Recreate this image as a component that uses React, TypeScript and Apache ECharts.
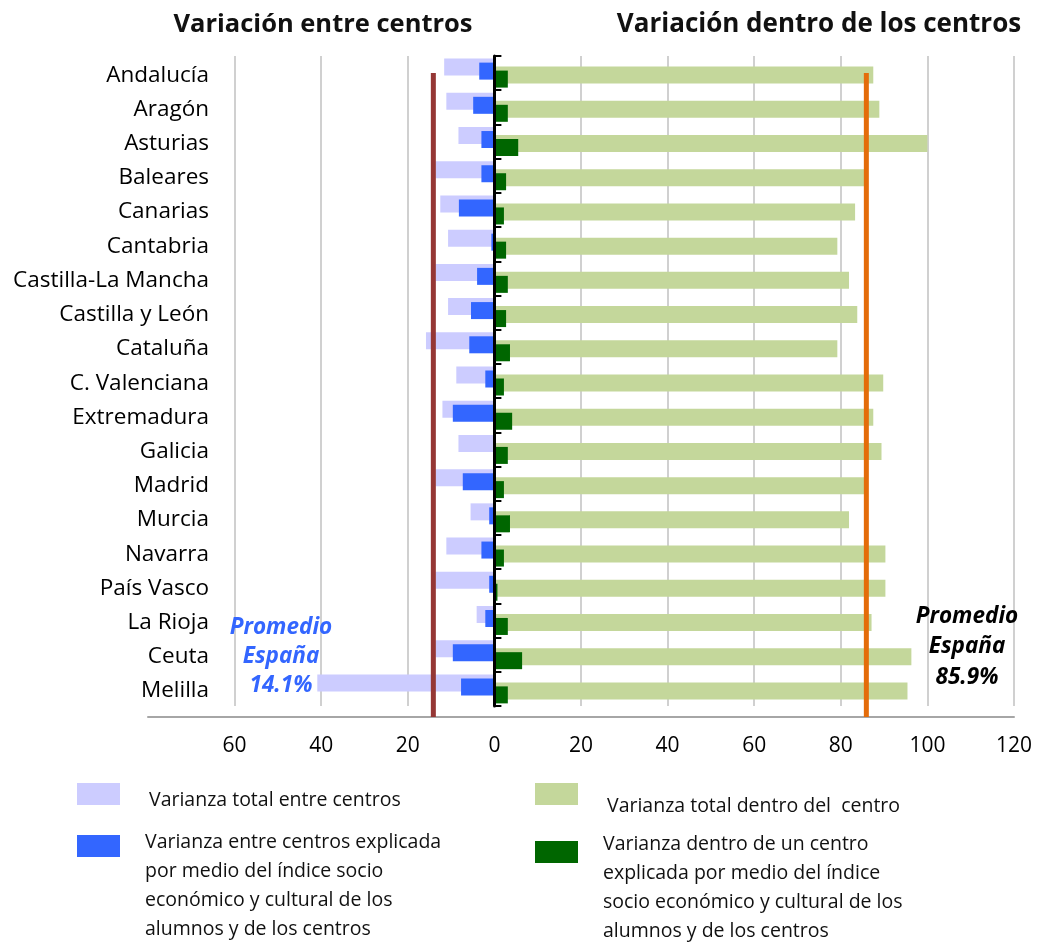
import React, { useEffect, useRef } from 'react';
import * as echarts from 'echarts';

const regions = [
  'Andalucía', 'Aragón', 'Asturias', 'Baleares', 'Canarias', 'Cantabria',
  'Castilla-La Mancha', 'Castilla y León', 'Cataluña', 'C. Valenciana',
  'Extremadura', 'Galicia', 'Madrid', 'Murcia', 'Navarra', 'País Vasco',
  'La Rioja', 'Ceuta', 'Melilla',
];
const totalBetween = [11.6, 11.1, 8.3, 13.6, 12.5, 10.7, 13.6, 10.7, 15.8, 8.8, 12.0, 8.3, 13.6, 5.5, 11.1, 13.6, 4.1, 13.6, 40.9];
const explainedBetween = [3.5, 4.9, 3.0, 3.0, 8.2, 0.7, 4.0, 5.4, 5.8, 2.1, 9.6, 0.3, 7.3, 1.2, 3.0, 1.2, 2.1, 9.6, 7.7];
const totalWithin = [87.5, 88.9, 100, 85.5, 83.3, 79.2, 81.9, 83.8, 79.2, 89.8, 87.5, 89.4, 85.5, 81.9, 90.3, 90.3, 87.1, 96.3, 95.4];
const explainedWithin = [3.1, 3.1, 5.5, 2.7, 2.2, 2.7, 3.1, 2.7, 3.6, 2.2, 4.1, 3.1, 2.2, 3.6, 2.2, 0.7, 3.1, 6.4, 3.1];
const avgBetween = 14.1;
const avgWithin = 85.9;
const titles = ['Variación entre centros', 'Variación dentro de los centros'];
const seriesNames = [
  'Varianza total entre centros',
  'Varianza entre centros explicada\npor medio del índice socio\neconómico y cultural de los\nalumnos y de los centros',
  'Varianza total dentro del  centro',
  'Varianza dentro de un centro\nexplicada por medio del índice\nsocio económico y cultural de los\nalumnos y de los centros',
];
const colors = ['#CCCCFF', '#3366FF', '#C4D79B', '#006600'];

const FONT = "'Open Sans', sans-serif";

export default function App() {
  const ref = useRef<HTMLDivElement>(null);
  useEffect(() => {
    const chart = echarts.init(ref.current!, null, { renderer: 'svg' });
    const barCommon = { type: 'bar', barWidth: 17, barGap: '-76.5%', yAxisIndex: 0 };
    const option: any = {
      animation: false,
      grid: { left: 148, right: 27, top: 56, bottom: 237, containLabel: false },
      xAxis: {
        type: 'value',
        min: -80,
        max: 120,
        interval: 20,
        offset: 11,
        axisLine: { show: true, onZero: false, lineStyle: { color: '#A6A6A6', width: 2 } },
        axisTick: { show: false },
        axisLabel: {
          margin: 16,
          fontSize: 21,
          fontFamily: FONT,
          color: '#000',
          formatter: (v: number) => (v === -80 ? '' : String(Math.abs(v))),
        },
        splitLine: { show: true, showMinLine: false, lineStyle: { color: '#C0C0C0', width: 1.5 } },
      },
      yAxis: [
        {
          type: 'category',
          data: regions,
          inverse: true,
          offset: -61,
          axisLine: { show: false, onZero: false },
          axisTick: { show: false },
          axisLabel: { margin: 0, fontSize: 22.5, fontFamily: FONT, color: '#000' },
          splitLine: { show: false },
        },
        {
          type: 'category',
          data: regions,
          inverse: true,
          z: 10,
          axisLine: { show: true, onZero: true, lineStyle: { color: '#000', width: 3 } },
          axisTick: { show: true, length: 7, lineStyle: { color: '#000', width: 2 } },
          axisLabel: { show: false },
          splitLine: { show: false },
        },
      ],
      series: [
        { ...barCommon, name: seriesNames[0], data: totalBetween.map((v) => -v), itemStyle: { color: colors[0] } },
        { ...barCommon, name: seriesNames[1], data: explainedBetween.map((v) => -v), itemStyle: { color: colors[1] } },
        { ...barCommon, name: seriesNames[2], data: totalWithin, itemStyle: { color: colors[2] } },
        { ...barCommon, name: seriesNames[3], data: explainedWithin, itemStyle: { color: colors[3] } },
      ],
    };
    chart.setOption(option);

    const first = chart.convertToPixel({ xAxisIndex: 0, yAxisIndex: 0 }, [0, regions[0]]) as number[];
    const last = chart.convertToPixel({ xAxisIndex: 0, yAxisIndex: 0 }, [0, regions[regions.length - 1]]) as number[];
    const band = (last[1] - first[1]) / (regions.length - 1);
    const yTop = first[1];
    const yBottom = last[1] + band / 2 + 11;
    const xB = chart.convertToPixel({ xAxisIndex: 0 }, -avgBetween) as number;
    const xW = chart.convertToPixel({ xAxisIndex: 0 }, avgWithin) as number;

    const legendText = (x: number, y: number, text: string, va: string) => ({
      type: 'text',
      x,
      y,
      z: 100,
      style: { text, fill: '#111', font: `19.5px ${FONT}`, lineHeight: 29, align: 'left', verticalAlign: va },
    });

    chart.setOption({
      graphic: [
        { type: 'line', z: 100, shape: { x1: xB, y1: yTop, x2: xB, y2: yBottom }, style: { stroke: '#953735', lineWidth: 5 } },
        { type: 'line', z: 100, shape: { x1: xW, y1: yTop, x2: xW, y2: yBottom }, style: { stroke: '#E46C0A', lineWidth: 5 } },
        { type: 'text', x: 323, y: 22, z: 100, style: { text: titles[0], fill: '#111', font: `bold 25.5px ${FONT}`, align: 'center', verticalAlign: 'middle' } },
        { type: 'text', x: 819, y: 22, z: 100, style: { text: titles[1], fill: '#111', font: `bold 26px ${FONT}`, align: 'center', verticalAlign: 'middle' } },
        { type: 'text', x: 281, y: 611, z: 100, style: { text: `Promedio\nEspaña\n${avgBetween.toFixed(1)}%`, fill: '#3366FF', font: `italic bold 22.5px ${FONT}`, lineHeight: 29, align: 'center', verticalAlign: 'top' } },
        { type: 'text', x: 967, y: 599, z: 100, style: { text: `Promedio\nEspaña\n${avgWithin.toFixed(1)}%`, fill: '#000', font: `italic bold 22.5px ${FONT}`, lineHeight: 30.5, align: 'center', verticalAlign: 'top' } },
        { type: 'rect', shape: { x: 77, y: 783, width: 43, height: 22 }, style: { fill: colors[0] } },
        legendText(149, 798, seriesNames[0], 'middle'),
        { type: 'rect', shape: { x: 77, y: 835, width: 43, height: 22 }, style: { fill: colors[1] } },
        legendText(145, 826, seriesNames[1], 'top'),
        { type: 'rect', shape: { x: 535, y: 783, width: 43, height: 22 }, style: { fill: colors[2] } },
        legendText(607, 804, seriesNames[2], 'middle'),
        { type: 'rect', shape: { x: 535, y: 841, width: 43, height: 22 }, style: { fill: colors[3] } },
        legendText(603, 828, seriesNames[3], 'top'),
      ],
    });

    return () => chart.dispose();
  }, []);
  return <div ref={ref} style={{ position: 'fixed', left: 0, top: 0, width: 1041, height: 943 }} />;
}
